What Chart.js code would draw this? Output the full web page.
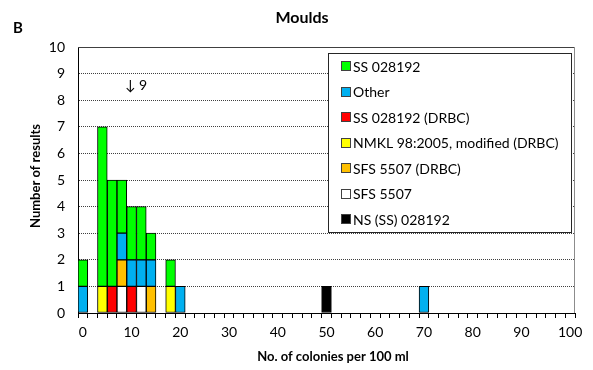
<!DOCTYPE html>
<html>
<head>
<meta charset="utf-8">
<script src="https://cdn.jsdelivr.net/npm/chart.js@4.4.1/dist/chart.umd.min.js"></script>
<style>
  html, body { margin: 0; padding: 0; background: #fff; }
  #wrap { width: 593px; height: 370px; position: relative; }
</style>
</head>
<body>
<div id="wrap"><canvas id="moulds" width="593" height="370"></canvas></div>
<script>
// ─── bins: number of colonies per 100 ml, width 2 ───────────────────────────
const categories = [
  0, 2, 4, 6, 8, 10, 12, 14, 16, 18, 20, 22, 24, 26, 28, 30, 32, 34, 36, 38,
  40, 42, 44, 46, 48, 50, 52, 54, 56, 58, 60, 62, 64, 66, 68, 70, 72, 74, 76, 78,
  80, 82, 84, 86, 88, 90, 92, 94, 96, 98, 100,
];
const xTickLabels = [0, 10, 20, 30, 40, 50, 60, 70, 80, 90, 100];
const yTickLabels = [0, 1, 2, 3, 4, 5, 6, 7, 8, 9, 10];

// results per bin for each method (bin -> count)
const ss028192     = { 0: 1, 4: 6, 6: 4, 8: 2, 10: 2, 12: 2, 14: 1, 18: 1 };
const other        = { 0: 1, 8: 1, 10: 1, 12: 1, 14: 1, 20: 1, 70: 1 };
const ss028192Drbc = { 6: 1, 10: 1 };
const nmklDrbc     = { 4: 1, 18: 1 };
const sfs5507Drbc  = { 8: 1, 14: 1 };
const sfs5507      = { 8: 1, 12: 1 };
const nsSs028192   = { 50: 1 };

const FONT = "Lato, 'Open Sans', sans-serif";

// stacked bottom -> top
const SERIES = [
  { label: 'NS (SS) 028192',                 counts: nsSs028192,   color: '#000000' },
  { label: 'SFS 5507',                       counts: sfs5507,      color: '#FFFFFF' },
  { label: 'SFS 5507 (DRBC)',                counts: sfs5507Drbc,  color: '#FFC000' },
  { label: 'NMKL 98:2005, modified (DRBC)',  counts: nmklDrbc,     color: '#FFFF00' },
  { label: 'SS 028192 (DRBC)',               counts: ss028192Drbc, color: '#FF0000' },
  { label: 'Other',                          counts: other,        color: '#00B0F0' },
  { label: 'SS 028192',                      counts: ss028192,     color: '#00FF00' },
];

function barDS(s) {
  return {
    label: s.label,
    data: categories.map(c => s.counts[c] ?? null),
    backgroundColor: s.color,
    borderColor: '#000',
    borderWidth: 1,
    borderSkipped: false,
    barPercentage: 1,
    categoryPercentage: 1,
  };
}

// plot frame (top/right), legend box and free text
const decor = {
  id: 'decor',
  beforeDatasetsDraw(chart) {
    const { ctx, chartArea: a } = chart;
    ctx.save();
    ctx.lineWidth = 1;
    ctx.strokeStyle = '#404040';
    ctx.beginPath();
    ctx.moveTo(a.left, a.top + 0.5); ctx.lineTo(a.right, a.top + 0.5);
    ctx.stroke();
    ctx.strokeStyle = '#8c8c8c';
    ctx.beginPath();
    ctx.moveTo(Math.round(a.right) - 0.5, a.top); ctx.lineTo(Math.round(a.right) - 0.5, a.bottom);
    ctx.stroke();
    ctx.restore();
  },
  afterDraw(chart) {
    const { ctx } = chart;
    ctx.save();
    ctx.fillStyle = '#000';

    ctx.font = `bold 15px ${FONT}`;
    ctx.textAlign = 'left';
    ctx.textBaseline = 'middle';
    ctx.fillText('B', 13, 28);

    ctx.font = `bold 16px ${FONT}`;
    ctx.textAlign = 'center';
    ctx.fillText('Moulds', 302, 18);

    ctx.font = `bold 13px ${FONT}`;
    ctx.fillText('No. of colonies per 100 ml', 333, 357);
    ctx.save();
    ctx.translate(36, 176);
    ctx.rotate(-Math.PI / 2);
    ctx.fillText('Number of results', 0, 0);
    ctx.restore();

    ctx.font = `14px ${FONT}`;
    ctx.textAlign = 'left';
    ctx.fillText('\u2193 9', 125, 85);

    // legend, top entry = last stacked series
    const bx = 328.5, by = 53.5, bw = 243, bh = 179;
    ctx.fillStyle = '#fff';
    ctx.fillRect(bx, by, bw, bh);
    ctx.strokeStyle = '#262626';
    ctx.lineWidth = 1;
    ctx.strokeRect(bx, by, bw, bh);
    ctx.font = `14px ${FONT}`;
    ctx.textBaseline = 'middle';
    chart.data.datasets.slice().reverse().forEach((ds, i) => {
      const y = 66 + i * 25.5;
      ctx.fillStyle = ds.backgroundColor;
      ctx.fillRect(341.5, Math.round(y) - 4.5, 9, 9);
      ctx.strokeStyle = '#404040';
      ctx.strokeRect(341.5, Math.round(y) - 4.5, 9, 9);
      ctx.fillStyle = '#000';
      ctx.fillText(ds.label, 353, y + 1);
    });
    ctx.restore();
  },
};

new Chart(document.getElementById('moulds').getContext('2d'), {
  type: 'bar',
  data: { labels: categories.map(String), datasets: SERIES.map(barDS) },
  options: {
    responsive: false,
    animation: false,
    layout: { padding: { left: 0, right: 18, top: 47, bottom: 0 } },
    plugins: { legend: { display: false }, tooltip: { enabled: false } },
    scales: {
      x: {
        stacked: true,
        offset: true,
        afterFit: s => { s.height = 57; },
        grid: {
          offset: true, drawOnChartArea: false, drawTicks: true,
          tickLength: 5, color: '#000',
        },
        border: { color: '#000', width: 1 },
        ticks: {
          autoSkip: false, maxRotation: 0, padding: 6, color: '#000',
          font: { family: FONT, size: 14 },
          callback: (v, i) => xTickLabels.includes(categories[i]) ? categories[i] : '',
        },
      },
      y: {
        stacked: true,
        min: yTickLabels[0],
        max: yTickLabels[yTickLabels.length - 1],
        afterFit: s => { s.width = 78; },
        grid: {
          drawTicks: false,
          color: c => (c.tick.value === 0 || c.tick.value === 10) ? 'rgba(0,0,0,0)' : '#404040',
        },
        border: { color: '#000', width: 1, dash: [1, 1] },
        ticks: {
          stepSize: 1, padding: 13, color: '#000',
          font: { family: FONT, size: 14 },
        },
      },
    },
  },
  plugins: [decor],
});
</script>
</body>
</html>
